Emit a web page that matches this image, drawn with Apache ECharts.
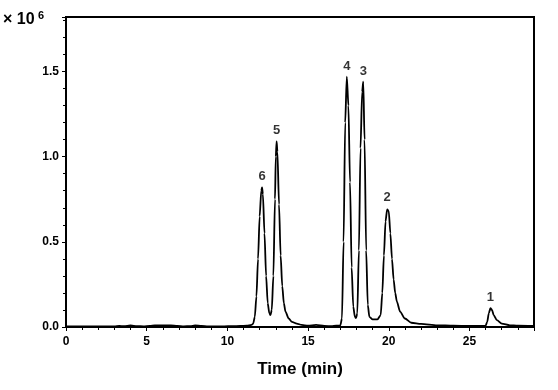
<!DOCTYPE html>
<html><head><meta charset="utf-8">
<script src="https://cdn.jsdelivr.net/npm/echarts@6/dist/echarts.min.js"></script>
<style>html,body{margin:0;padding:0;background:#fff}#c{width:558px;height:390px}</style>
</head><body><div id="c"></div>
<script>
// Chromatogram trace: time (min)
const times = [0,0.5,1,1.5,2,2.5,3,3.3,3.6,4,4.4,4.8,5.2,5.5,6,6.5,6.9,7.3,7.7,8,8.4,8.8,9.3,9.8,10.3,10.8,11.2,11.5,11.6,11.7,11.8,11.9,12.0,12.1,12.15,12.2,12.3,12.4,12.5,12.6,12.67,12.75,12.85,12.95,13.0,13.05,13.1,13.2,13.3,13.4,13.5,13.6,13.8,14.0,14.3,14.6,15.0,15.5,16.0,16.5,17.0,17.1,17.2,17.3,17.4,17.5,17.6,17.7,17.8,17.9,17.97,18.05,18.15,18.25,18.35,18.42,18.5,18.6,18.7,18.8,19.0,19.3,19.5,19.6,19.7,19.8,19.9,20.0,20.1,20.2,20.3,20.4,20.5,20.7,21.0,21.4,22.0,23.0,24.0,25.0,26.0,26.1,26.2,26.3,26.4,26.5,26.7,27.0,27.5,28.0,29.0];
// Signal (x10^6)
const signal = [0.004,0.004,0.004,0.004,0.004,0.004,0.003,0.006,0.005,0.009,0.005,0.004,0.007,0.009,0.009,0.009,0.007,0.004,0.005,0.009,0.006,0.004,0.004,0.004,0.005,0.006,0.008,0.012,0.02,0.06,0.18,0.40,0.65,0.80,0.82,0.78,0.55,0.30,0.14,0.08,0.07,0.10,0.30,0.75,1.0,1.09,1.03,0.72,0.42,0.24,0.14,0.09,0.05,0.03,0.02,0.012,0.008,0.012,0.006,0.005,0.01,0.05,0.5,1.2,1.47,1.3,0.85,0.35,0.12,0.06,0.052,0.08,0.45,1.05,1.38,1.44,1.1,0.45,0.13,0.06,0.045,0.045,0.07,0.2,0.42,0.62,0.69,0.68,0.55,0.40,0.28,0.20,0.15,0.09,0.05,0.025,0.018,0.01,0.008,0.006,0.007,0.03,0.08,0.11,0.10,0.07,0.04,0.02,0.01,0.008,0.006];
// Peak annotations
const peakNames = ['6','5','4','3','2','1'];
const peakTimes = [12.15,13.05,17.4,18.42,19.9,26.3];
const peakHeights = [0.82,1.09,1.47,1.44,0.70,0.11];
const xTicks = [0,5,10,15,20,25];
const yTicks = [0.0,0.5,1.0,1.5];

const chart = echarts.init(document.getElementById('c'), null, {renderer:'canvas'});
const F = '"Liberation Sans", Arial, sans-serif';
chart.setOption({
  animation:false,
  grid:{left:66,right:24,top:17,bottom:63,show:true,borderColor:'#000',borderWidth:2},
  xAxis:{type:'value',min:0,max:29,interval:5,
    name:'Time (min)',nameLocation:'middle',nameGap:34,
    nameTextStyle:{fontFamily:F,fontWeight:'bold',fontSize:17,color:'#000'},
    axisLine:{lineStyle:{color:'#000',width:2}},
    axisTick:{show:true,length:4,lineStyle:{color:'#000'}},
    minorTick:{show:true,splitNumber:5,length:3,lineStyle:{color:'#000'}},
    splitLine:{show:false},
    axisLabel:{fontFamily:F,fontWeight:'bold',fontSize:12,color:'#000',margin:9,
      formatter:v=>xTicks.includes(v)?String(v):''}},
  yAxis:{type:'value',min:0,max:1.82,interval:0.5,
    axisLine:{show:true,lineStyle:{color:'#000',width:2}},
    axisTick:{show:true,length:4,lineStyle:{color:'#000'}},
    minorTick:{show:true,splitNumber:5,length:3,lineStyle:{color:'#000'}},
    splitLine:{show:false},
    axisLabel:{fontFamily:F,fontWeight:'bold',fontSize:12,color:'#000',margin:7,
      formatter:v=>{const t=yTicks.find(a=>Math.abs(a-v)<1e-6);return t===undefined?'':t.toFixed(1);}}},
  graphic:[{type:'text',left:3,top:10,style:{
    text:'{a|× 10} {b|6}',
    rich:{a:{fontFamily:F,fontWeight:'bold',fontSize:16,fill:'#000'},
          b:{fontFamily:F,fontWeight:'bold',fontSize:11,fill:'#000',verticalAlign:'top',padding:[0,0,8,0]}}}}],
  series:[
    {type:'line',data:times.map((t,i)=>[t,signal[i]]),showSymbol:false,smooth:0.25,smoothMonotone:'x',
     lineStyle:{color:'#000',width:1.8}},
    {type:'scatter',data:peakTimes.map((t,i)=>[t,peakHeights[i],peakNames[i]]),symbolSize:0,
     label:{show:true,position:'top',distance:4,formatter:p=>p.data[2],
       fontFamily:F,fontWeight:'bold',fontSize:13,color:'#000'}}
  ]
});
</script></body></html>
